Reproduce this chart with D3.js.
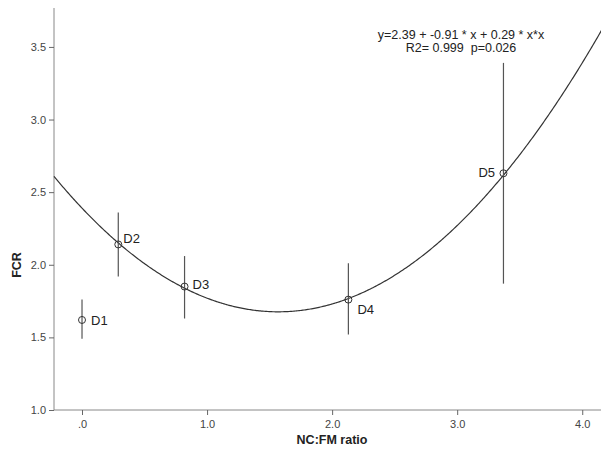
<!DOCTYPE html>
<html><head><meta charset="utf-8">
<script src="https://cdn.jsdelivr.net/npm/d3@7"></script>
<style>body{margin:0;background:#fff}svg{display:block}text{font-family:"Liberation Sans",Arial,sans-serif}</style>
</head><body><svg id="c" width="601" height="454"></svg>
<script>
const labels = ["D1","D2","D3","D4","D5"];
const xVals = [0.0, 0.29, 0.82, 2.13, 3.37];
const yVals = [1.62, 2.14, 1.85, 1.76, 2.63];
const yLow  = [1.49, 1.92, 1.63, 1.52, 1.87];
const yHigh = [1.76, 2.36, 2.06, 2.01, 3.39];
const coef = [2.39, -0.91, 0.29];
const xTicks = [0, 1, 2, 3, 4];
const xTickLabels = [".0", "1.0", "2.0", "3.0", "4.0"];
const yTicks = [1.0, 1.5, 2.0, 2.5, 3.0, 3.5];
const eqText = ["y=2.39 + -0.91 * x + 0.29 * x*x", "R2= 0.999  p=0.026"];

const svg = d3.select("#c");
const x = d3.scaleLinear().domain([-0.224, 4.15]).range([54, 601]);
const y = d3.scaleLinear().domain([1.0, 3.768]).range([410, 8]);

// axes
const ya = svg.append("g").attr("transform","translate(54,0)")
  .call(d3.axisLeft(y).tickValues(yTicks).tickFormat(d3.format(".1f")).tickSizeOuter(0).tickSize(5));
const xa = svg.append("g").attr("transform","translate(0,410)")
  .call(d3.axisBottom(x).tickValues(xTicks).tickFormat((d,i)=>xTickLabels[i]).tickSizeOuter(0).tickSize(5));
[ya, xa].forEach(g=>{
  g.select(".domain").attr("stroke","#888");
  g.selectAll(".tick line").attr("stroke","#666");
  g.selectAll(".tick text").attr("fill","#444").style("font-size","11px").style("font-family","'Liberation Sans',Arial,sans-serif");
});
xa.selectAll(".tick text").attr("dy","0.9em");
ya.select(".domain").attr("d","M0,8V410");
xa.select(".domain").attr("d","M54,0H601");

// axis titles
svg.append("text").attr("x",332).attr("y",444).attr("text-anchor","middle")
  .style("font-size","12.5px").style("font-weight","bold").attr("fill","#222").text("NC:FM ratio");
svg.append("text").attr("transform","translate(21,265) rotate(-90)").attr("text-anchor","middle")
  .style("font-size","12.5px").style("font-weight","bold").attr("fill","#222").text("FCR");

// fitted curve
const f = v => coef[0] + coef[1]*v + coef[2]*v*v;
const xs = d3.range(-0.224, 4.16, 0.01);
svg.append("path").datum(xs)
  .attr("d", d3.line().x(d=>x(d)).y(d=>y(f(d))))
  .attr("fill","none").attr("stroke","#333").attr("stroke-width",1.2);

// error bars
svg.selectAll("line.err").data(xVals).join("line").attr("class","err")
  .attr("x1",d=>x(d)).attr("x2",d=>x(d))
  .attr("y1",(d,i)=>y(yLow[i])).attr("y2",(d,i)=>y(yHigh[i]))
  .attr("stroke","#555").attr("stroke-width",1.2);

// points
svg.selectAll("circle.pt").data(xVals).join("circle").attr("class","pt")
  .attr("cx",d=>x(d)).attr("cy",(d,i)=>y(yVals[i])).attr("r",3.5)
  .attr("fill","none").attr("stroke","#333").attr("stroke-width",1);

// point labels
const off = [[9,5],[5,-1],[8,2],[9,14],[-25,4]];
svg.selectAll("text.lab").data(xVals).join("text").attr("class","lab")
  .attr("x",(d,i)=>x(d)+off[i][0]).attr("y",(d,i)=>y(yVals[i])+off[i][1])
  .style("font-size","13px").attr("fill","#222").text((d,i)=>labels[i]);

// equation
svg.selectAll("text.eq").data(eqText).join("text").attr("class","eq")
  .attr("x",461).attr("y",(d,i)=>39+i*13).attr("text-anchor","middle")
  .style("white-space","pre").attr("xml:space","preserve")
  .style("font-size","12.5px").attr("fill","#222").text(d=>d);
</script></body></html>
